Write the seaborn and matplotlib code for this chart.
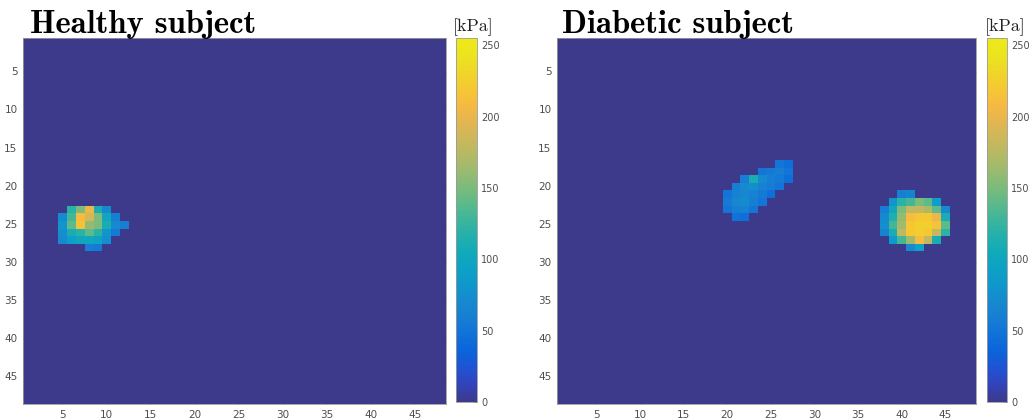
import numpy as np
import matplotlib
matplotlib.use("Agg")
import matplotlib.pyplot as plt
from matplotlib.colors import LinearSegmentedColormap
import seaborn as sns

# Plantar pressure maps on a 48 x 48 sensor grid, values in kPa.
# Each patch row: (matrix row, first matrix column, pressures), 1-based indices.
GRID_SIZE = 48
HEALTHY_PATCH = [
    (23, 6, [120, 150, 200, 110, 70]),
    (24, 5, [70, 130, 210, 190, 150, 100, 60]),
    (25, 5, [80, 140, 215, 160, 150, 110, 70, 60]),
    (26, 5, [75, 110, 120, 140, 120, 80, 55]),
    (27, 5, [70, 90, 100, 100, 95, 75]),
    (28, 8, [60, 55]),
]
DIABETIC_PATCH = [
    (17, 26, [50, 45]),
    (18, 24, [50, 55, 60, 50]),
    (19, 22, [60, 110, 70, 60, 55, 45]),
    (20, 21, [60, 70, 75, 62, 58, 50]),
    (21, 20, [50, 62, 68, 62, 55, 45]),
    (22, 20, [55, 68, 72, 60, 50]),
    (23, 20, [50, 60, 62, 50]),
    (24, 21, [48, 45]),
    (21, 40, [60, 65]),
    (22, 39, [80, 120, 130, 150, 140, 90]),
    (23, 38, [60, 100, 150, 180, 180, 170, 140, 70]),
    (24, 38, [70, 115, 160, 210, 220, 220, 200, 110]),
    (25, 38, [75, 130, 165, 220, 225, 225, 215, 140]),
    (26, 38, [65, 110, 180, 220, 225, 220, 180, 120]),
    (27, 39, [85, 130, 165, 210, 180, 110]),
    (28, 41, [70, 95]),
]
TITLES = ["Healthy subject", "Diabetic subject"]
TICK_VALUES = [5, 10, 15, 20, 25, 30, 35, 40, 45]
CBAR_TICKS = [0, 50, 100, 150, 200, 250]
UNIT_LABEL = "[kPa]"
P_MIN, P_MAX = 0, 255

# MATLAB-like "parula" colour map, slightly muted
PARULA_ANCHORS = [
    (0.238, 0.228, 0.545), (0.196, 0.264, 0.728), (0.125, 0.324, 0.830),
    (0.040, 0.390, 0.860), (0.060, 0.443, 0.850), (0.090, 0.489, 0.830),
    (0.090, 0.535, 0.810), (0.060, 0.590, 0.800), (0.050, 0.632, 0.775),
    (0.065, 0.662, 0.730), (0.135, 0.690, 0.675), (0.235, 0.712, 0.610),
    (0.360, 0.728, 0.545), (0.490, 0.735, 0.484), (0.605, 0.733, 0.436),
    (0.708, 0.727, 0.394), (0.805, 0.720, 0.356), (0.895, 0.713, 0.315),
    (0.965, 0.728, 0.255), (0.960, 0.785, 0.200), (0.935, 0.840, 0.160),
    (0.925, 0.895, 0.120), (0.930, 0.915, 0.100),
]
parula = LinearSegmentedColormap.from_list("parula", PARULA_ANCHORS, N=256)


def build_grid(patch):
    grid = np.zeros((GRID_SIZE, GRID_SIZE))
    for row, col, values in patch:
        grid[row - 1, col - 1:col - 1 + len(values)] = values
    return grid


sns.set_style("white")
fig = plt.figure(figsize=(10.29, 4.19), dpi=100)

W, H = 1029.0, 419.0
panels = [
    dict(ax=(23, 38, 423, 366), cax=(456, 38, 21, 364), title_x=30, unit_x=473),
    dict(ax=(557, 38, 419, 366), cax=(987, 38, 20, 364), title_x=562, unit_x=1005),
]


def fig_rect(x, y, w, h):
    return [x / W, 1 - (y + h) / H, w / W, h / H]


tick_grey = "#4d4d4d"
for panel, patch, title in zip(panels, [HEALTHY_PATCH, DIABETIC_PATCH], TITLES):
    ax = fig.add_axes(fig_rect(*panel["ax"]))
    cax = fig.add_axes(fig_rect(*panel["cax"]))
    sns.heatmap(build_grid(patch), ax=ax, cbar_ax=cax, cmap=parula,
                vmin=P_MIN, vmax=P_MAX, linewidths=0, rasterized=True)

    positions = np.array(TICK_VALUES) - 0.5
    ax.set_xticks(positions)
    ax.set_xticklabels(TICK_VALUES, rotation=0)
    ax.set_yticks(positions)
    ax.set_yticklabels(TICK_VALUES, rotation=0)
    ax.tick_params(direction="in", length=3, width=0.6, color="#2b2b55",
                   labelsize=7.5, labelcolor=tick_grey, pad=4,
                   top=True, right=True, bottom=True, left=True)
    for sp in ax.spines.values():
        sp.set_visible(True)
        sp.set_linewidth(0.6)
        sp.set_color("#9a9a9a")

    cax.set_yticks(CBAR_TICKS)
    cax.set_yticklabels(CBAR_TICKS)
    cax.tick_params(direction="in", length=3, width=0.6, color="#555555",
                    labelsize=7, labelcolor=tick_grey, pad=3)
    cbar = ax.collections[0].colorbar
    cbar.outline.set_visible(True)
    cbar.outline.set_linewidth(0.6)
    cbar.outline.set_edgecolor("#9a9a9a")

    fig.text(panel["title_x"] / W, 1 - 33 / H, title, fontfamily="cmb10",
             fontsize=23.5, ha="left", va="baseline", color="black")
    fig.text(panel["unit_x"] / W, 1 - 31 / H, UNIT_LABEL, fontfamily="cmr10",
             fontsize=13, ha="center", va="baseline", color="#222222")

fig.savefig("out.png", dpi=100)
